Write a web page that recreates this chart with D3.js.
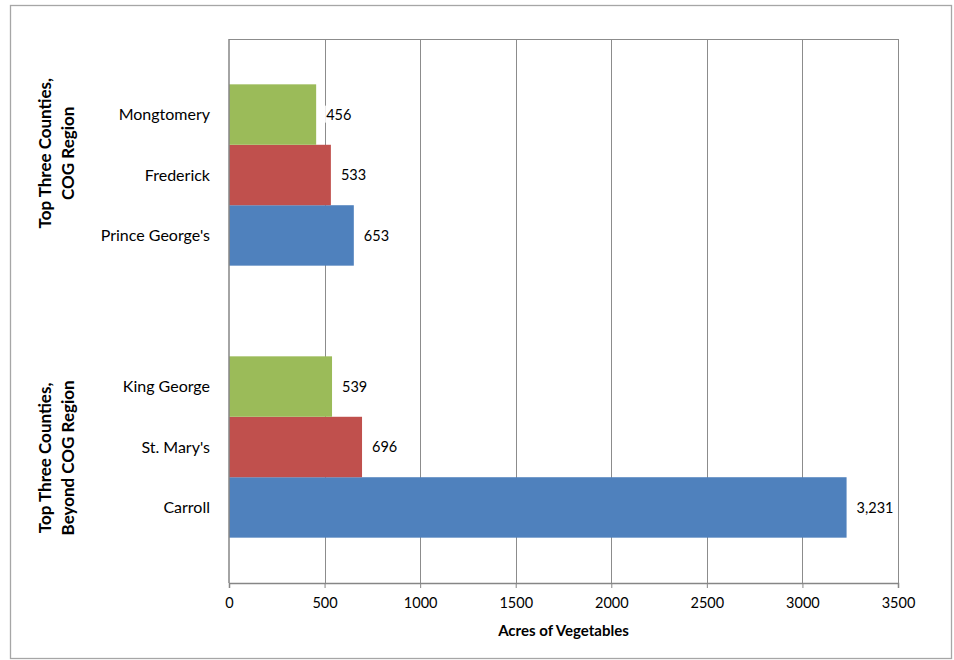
<!DOCTYPE html>
<html>
<head>
<meta charset="utf-8">
<script src="https://d3js.org/d3.v7.min.js"></script>
<style>
  body { margin: 0; background: #fff; }
  svg text { font-family: Lato, "Liberation Sans", sans-serif; fill: #000; }
</style>
</head>
<body>
<div id="chart"></div>
<script>
// data
var groups = ["Top Three Counties, COG Region", "Top Three Counties, Beyond COG Region"];
var groupLines = [["Top Three Counties,", "COG Region"], ["Top Three Counties,", "Beyond COG Region"]];
var counties = [
  ["Prince George's", "Frederick", "Mongtomery"],
  ["Carroll", "St. Mary's", "King George"]
];
var values = [
  [653, 533, 456],
  [3231, 696, 539]
];
var xTicks = [0, 500, 1000, 1500, 2000, 2500, 3000, 3500];
var xTitle = "Acres of Vegetables";

var colors = ["#4F81BD", "#C0504D", "#9BBB59"];

var W = 954, H = 660,
    plotL = 229, plotR = 898, plotT = 39, plotB = 583;

var svg = d3.select("#chart").append("svg")
    .attr("width", W).attr("height", H);

// outer frame
svg.append("rect")
    .attr("x", 10.5).attr("y", 5.5)
    .attr("width", 941).attr("height", 653)
    .attr("fill", "#fff").attr("stroke", "#a6a6a6").attr("stroke-width", 1.3);

var x = d3.scaleLinear().domain([0, 3500]).range([plotL, plotR]);

var y0 = d3.scaleBand().domain(groups).range([plotT, plotB]).paddingInner(0);
var y1 = d3.scaleBand().domain([2, 1, 0]).range([0, y0.bandwidth()])
    .paddingInner(0).paddingOuter(0.75);

// gridlines
svg.append("g").selectAll("line")
    .data(xTicks.slice(1))
    .enter().append("line")
    .attr("x1", function (d) { return Math.round(x(d)) + 0.5; })
    .attr("x2", function (d) { return Math.round(x(d)) + 0.5; })
    .attr("y1", plotT).attr("y2", plotB)
    .attr("stroke", "#8c8c8c").attr("stroke-width", 1);

// top border of plot
svg.append("line")
    .attr("x1", plotL).attr("x2", plotR)
    .attr("y1", plotT + 0.5).attr("y2", plotT + 0.5)
    .attr("stroke", "#8c8c8c");

// bars
var rows = [];
groups.forEach(function (g, gi) {
  values[gi].forEach(function (v, si) {
    rows.push({ group: g, gi: gi, si: si, name: counties[gi][si], value: v });
  });
});

var bar = svg.append("g").selectAll("g")
    .data(rows)
    .enter().append("g");

bar.append("rect")
    .attr("x", x(0))
    .attr("y", function (d) { return y0(d.group) + y1(d.si); })
    .attr("width", function (d) { return x(d.value) - x(0); })
    .attr("height", y1.bandwidth())
    .attr("fill", function (d) { return colors[d.si]; });

var fmt = d3.format(",");

// value labels with white background
var lab = bar.append("g")
    .attr("transform", function (d) {
      return "translate(" + (x(d.value) + 10) + "," + (y0(d.group) + y1(d.si) + y1.bandwidth() / 2) + ")";
    });
lab.append("text")
    .attr("dy", "0.35em")
    .style("font-size", "14.5px")
    .text(function (d) { return fmt(d.value); })
    .each(function () {
      var b = this.getBBox();
      d3.select(this.parentNode).insert("rect", "text")
        .attr("x", b.x - 1).attr("y", b.y)
        .attr("width", b.width + 2).attr("height", b.height)
        .attr("fill", "#fff");
    });

// county labels
svg.append("g").selectAll("text")
    .data(rows)
    .enter().append("text")
    .attr("x", 210)
    .attr("y", function (d) { return y0(d.group) + y1(d.si) + y1.bandwidth() / 2; })
    .attr("dy", "0.35em")
    .attr("text-anchor", "end")
    .style("font-size", "16px")
    .text(function (d) { return d.name; });

// group labels (rotated, two lines)
var groupCenter = [0.42, 0.54];
var gl = svg.append("g").selectAll("text")
    .data(groups)
    .enter().append("text")
    .attr("transform", function (d, i) {
      return "translate(56," + (y0(d) + y0.bandwidth() * groupCenter[i]) + ") rotate(-90)";
    })
    .attr("text-anchor", "middle")
    .style("font-size", "17px")
    .style("font-weight", "bold");
gl.selectAll("tspan")
    .data(function (d, i) { return groupLines[i]; })
    .enter().append("tspan")
    .attr("x", 0)
    .attr("dy", function (d, i) { return i === 0 ? "-0.3em" : "1.35em"; })
    .text(function (d) { return d; });

// x axis
var xAxis = svg.append("g")
    .attr("transform", "translate(0," + plotB + ")")
    .call(d3.axisBottom(x).tickValues(xTicks).tickSize(5).tickPadding(10).tickFormat(d3.format("d")));
xAxis.select(".domain").attr("stroke", "#868686").attr("stroke-width", 1.5);
xAxis.selectAll(".tick line").attr("stroke", "#868686");
xAxis.selectAll(".tick text").style("font-size", "14.5px").style("font-family", "Lato, sans-serif").attr("fill", "#000");

// y axis line
svg.append("line")
    .attr("x1", plotL).attr("x2", plotL)
    .attr("y1", plotT).attr("y2", plotB)
    .attr("stroke", "#868686").attr("stroke-width", 1.5);

svg.append("text")
    .attr("x", (plotL + plotR) / 2)
    .attr("y", 636)
    .attr("text-anchor", "middle")
    .style("font-size", "15px")
    .style("font-weight", "bold")
    .text(xTitle);
</script>
</body>
</html>
